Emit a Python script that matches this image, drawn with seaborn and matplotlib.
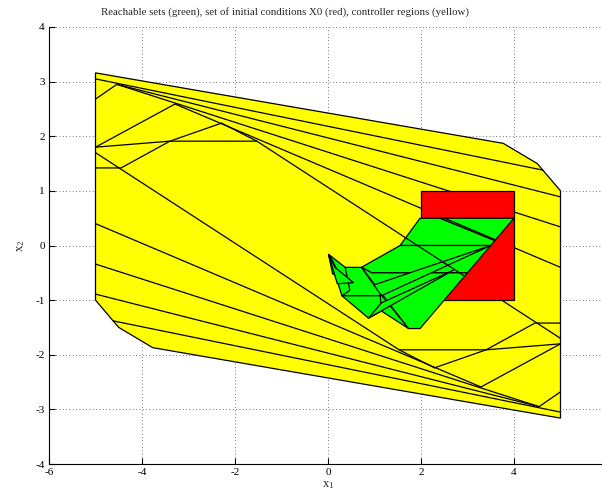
import numpy as np
import pandas as pd
import matplotlib
matplotlib.use("Agg")
import matplotlib.pyplot as plt
import seaborn as sns

# ---- controller regions (yellow): outer boundary of the partition ----
outer_x = [-5.00, 3.77, 4.50, 5.00, 5.00, -3.77, -4.50, -5.00]
outer_y = [3.16, 1.87, 1.50, 1.00, -3.16, -1.87, -1.50, -1.00]

# region boundaries inside the partition (one polyline per entry)
partition_x = [
    [-5.00, 4.62], [-5.00, -4.54], [-4.54, 5.00], [-4.54, 5.00],
    [-5.00, -3.29], [-3.29, 5.00], [-5.00, -3.40, -1.53],
    [-5.00, -4.45, -3.40, -2.29], [5.00, -1.53, -2.29],
    [5.00, -4.62], [5.00, 4.54], [4.54, -5.00], [4.54, -5.00],
    [5.00, 3.29], [3.29, -5.00], [5.00, 3.40, 1.53],
    [5.00, 4.45, 3.40, 2.29], [-5.00, 1.53, 2.29],
]
partition_y = [
    [3.05, 1.38], [2.68, 2.95], [2.95, 0.89], [2.95, 0.34],
    [1.80, 2.59], [2.59, -0.40], [1.80, 1.91, 1.91],
    [1.42, 1.42, 1.91, 2.24], [-1.70, 1.91, 2.24],
    [-3.05, -1.38], [-2.68, -2.95], [-2.95, -0.89], [-2.95, -0.34],
    [-1.80, -2.59], [-2.59, 0.40], [-1.80, -1.91, -1.91],
    [-1.42, -1.42, -1.91, -2.24], [1.70, -1.91, -2.24],
]

# ---- set of initial conditions X0 (red) ----
x0_x = [2.0, 4.0, 4.0, 2.0]
x0_y = [-1.0, -1.0, 1.0, 1.0]

# ---- reachable sets (green) ----
reach_x = [
    [1.98, 2.41, 3.59, 3.50, 1.55],
    [2.41, 4.00, 3.59],
    [1.55, 3.50, 3.00, 0.94, 0.72],
    [0.72, 0.94, 3.00, 1.98, 1.73],
    [0.30, 3.50, 1.15],
    [0.37, 0.72, 1.15, 0.30],
    [0.30, 1.15, 1.15, 0.87],
    [1.12, 1.73, 1.15],
    [0.87, 2.70, 1.15],
    [0.01, 0.37, 0.47, 0.30],
    [0.01, 0.06, 0.25, 0.10],
    [0.01, 0.15, 0.55, 0.20],
]
reach_y = [
    [0.50, 0.50, 0.09, 0.00, 0.00],
    [0.50, 0.50, 0.09],
    [0.00, 0.00, -0.50, -0.50, -0.40],
    [-0.40, -0.50, -0.50, -1.52, -1.52],
    [-0.92, 0.00, -0.92],
    [-0.40, -0.40, -0.92, -0.92],
    [-0.92, -0.92, -1.20, -1.33],
    [-0.88, -1.52, -1.20],
    [-1.33, -0.45, -1.05],
    [-0.16, -0.40, -0.82, -0.92],
    [-0.16, -0.21, -0.55, -0.52],
    [-0.16, -0.40, -0.68, -0.70],
]

title = ("Reachable sets (green), set of initial conditions X0 (red), "
         "controller regions (yellow)")
x_ticks = [-6, -4, -2, 0, 2, 4, 6]
x_tick_labels = ["-6", "-4", "-2", "0", "2", "4", ""]
y_ticks = [-4, -3, -2, -1, 0, 1, 2, 3, 4]

sns.set_style("white")
plt.rcParams["font.family"] = ["Liberation Serif", "DejaVu Serif"]
plt.rcParams["mathtext.fontset"] = "custom"
plt.rcParams["mathtext.rm"] = "Liberation Serif"
plt.rcParams["mathtext.it"] = "Liberation Serif:italic"
plt.rcParams["axes.unicode_minus"] = False

fig = plt.figure(figsize=(6.02, 5.0), dpi=100)
ax = fig.add_axes([49 / 602, 36 / 500, 558 / 602, 437 / 500])

LW = 0.9

# yellow controller regions
ax.fill(outer_x, outer_y, facecolor=(1, 1, 0), edgecolor="black",
        linewidth=LW, zorder=1)

rows = []
for k, (xs, ys) in enumerate(zip(partition_x, partition_y)):
    for i, (xv, yv) in enumerate(zip(xs, ys)):
        rows.append({"seg": k, "order": i, "x": xv, "y": yv})
seg_df = pd.DataFrame(rows)
sns.lineplot(data=seg_df, x="x", y="y", units="seg", estimator=None,
             sort=False, color="black", linewidth=LW, legend=False,
             ax=ax, zorder=2)

# red initial set
ax.fill(x0_x, x0_y, facecolor=(1, 0, 0), edgecolor="black",
        linewidth=LW, zorder=3)

# green reachable sets, with region boundaries visible inside them
for xs, ys in zip(reach_x, reach_y):
    patch = ax.fill(xs, ys, facecolor=(0, 1, 0), edgecolor="black",
                    linewidth=LW, zorder=4)[0]
    for px, py in zip(partition_x, partition_y):
        ln, = ax.plot(px, py, color="black", linewidth=LW, zorder=5)
        ln.set_clip_path(patch)

ax.set_xlim(-6, 6)
ax.set_ylim(-4, 4)
ax.set_xticks(x_ticks)
ax.set_yticks(y_ticks)
ax.set_xticklabels(x_tick_labels)
ax.set_yticklabels([str(t) for t in y_ticks])
ax.grid(True, color="#444444", linestyle=(0, (1, 3)), linewidth=0.6)
ax.set_axisbelow(True)
for side in ("top", "right"):
    ax.spines[side].set_visible(False)
for side in ("left", "bottom"):
    ax.spines[side].set_color("black")
    ax.spines[side].set_linewidth(0.8)
ax.tick_params(direction="in", length=4, width=0.8, labelsize=8,
               colors="black", pad=3, left=True, bottom=True)

ax.text((285 - 49) / 558, 1.0 + 10 / 437, title, transform=ax.transAxes,
        ha="center", va="bottom", fontsize=7.8)
ax.set_xlabel("x$_1$", fontsize=9, labelpad=1)
ax.set_ylabel("x$_2$", fontsize=9, labelpad=6)

fig.savefig("out.png", dpi=100)
